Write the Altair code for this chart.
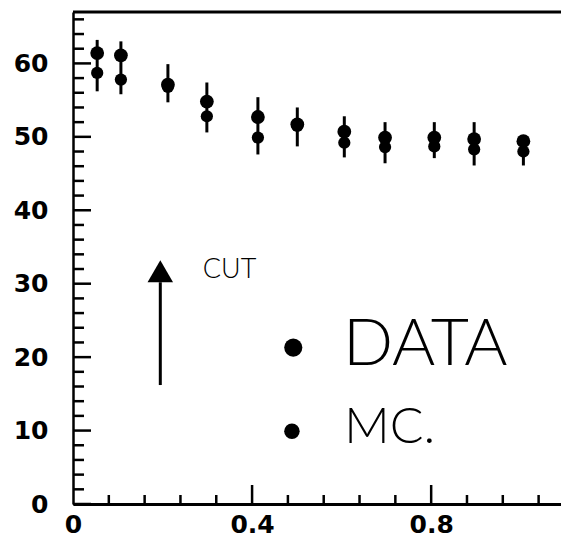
import altair as alt
import pandas as pd
import numpy as np

# ---- data ----
x_vals = [0.054, 0.107, 0.212, 0.299, 0.413, 0.501, 0.606, 0.697, 0.807, 0.896, 1.006]
data_vals = [61.4, 61.1, 57.1, 54.8, 52.7, 51.7, 50.7, 49.9, 49.9, 49.7, 49.4]
mc_vals = [58.7, 57.8, 56.8, 52.8, 49.9, 51.5, 49.2, 48.6, 48.7, 48.3, 48.0]
err_low = [56.2, 55.8, 54.7, 50.6, 47.6, 48.7, 47.2, 46.4, 47.1, 46.1, 46.1]
err_high = [63.2, 63.0, 59.9, 57.4, 55.4, 54.0, 52.8, 52.0, 52.0, 52.0, 50.1]
x_tick_labels = [0, 0.4, 0.8]
y_tick_labels = [0, 10, 20, 30, 40, 50, 60]

# annotation text
cut_text = ["CUT"]
legend_names = ["DATA", "MC."]

W, H = 488, 492
xs = alt.Scale(domain=[0, 1.09], nice=False, zero=False)
ys = alt.Scale(domain=[0, 67], nice=False, zero=False)

xaxis = alt.Axis(values=x_tick_labels,
                 labelExpr="datum.value == 0 ? '0' : format(datum.value, '.1f')",
                 ticks=False, tickSize=0, grid=False, domainWidth=3, domainColor="black",
                 labelFont="DejaVu Sans", labelFontWeight="bold", labelFontSize=25,
                 labelColor="black", labelPadding=8, labelFlush=False, title=None)
yaxis = alt.Axis(values=y_tick_labels, format="d",
                 ticks=False, tickSize=0, grid=False, domainWidth=2.5, domainColor="black",
                 labelFont="DejaVu Sans", labelFontWeight="bold", labelFontSize=25,
                 labelColor="black", labelPadding=25, labelFlush=False, title=None)


def X(f):
    return alt.X(f, type="quantitative", scale=xs, axis=xaxis)


def Y(f):
    return alt.Y(f, type="quantitative", scale=ys, axis=yaxis)


n = len(x_vals)
pts = pd.DataFrame({"x": x_vals * 2, "y": data_vals + mc_vals,
                    "kind": ["DATA"] * n + ["MC"] * n})
err = pd.DataFrame({"x": x_vals, "lo": err_low, "hi": err_high})

# inward ticks
y_minor = pd.DataFrame({"v": [v for v in np.arange(0, 67, 2) if v % 10 != 0]})
y_major = pd.DataFrame({"v": [v for v in np.arange(0, 67, 10)]})
x_minor = pd.DataFrame({"v": [round(v, 2) for v in np.arange(0.08, 1.09, 0.08)
                              if abs(v / 0.4 - round(v / 0.4)) > 1e-6]})
x_major = pd.DataFrame({"v": [0.4, 0.8]})

ytick_min = alt.Chart(y_minor).mark_rule(color="black", strokeWidth=2.5).encode(
    y=Y("v"), x=alt.value(0), x2=alt.value(11))
ytick_maj = alt.Chart(y_major).mark_rule(color="black", strokeWidth=2.5).encode(
    y=Y("v"), x=alt.value(0), x2=alt.value(18))
xtick_min = alt.Chart(x_minor).mark_rule(color="black", strokeWidth=2.5).encode(
    x=X("v"), y=alt.value(H), y2=alt.value(H - 9))
xtick_maj = alt.Chart(x_major).mark_rule(color="black", strokeWidth=2.5).encode(
    x=X("v"), y=alt.value(H), y2=alt.value(H - 19))

top_frame = alt.Chart(pd.DataFrame({"a": [0]})).mark_rule(color="black", strokeWidth=3).encode(
    y=alt.value(0), x=alt.value(0), x2=alt.value(W))

bars = alt.Chart(err).mark_rule(color="black", strokeWidth=3).encode(
    x=X("x"), y=Y("lo"), y2=alt.Y2("hi"))

points = alt.Chart(pts).mark_point(filled=True, opacity=1, color="black").encode(
    x=X("x"), y=Y("y"),
    size=alt.Size("kind:N", scale=alt.Scale(domain=["DATA", "MC"], range=[190, 150]), legend=None))

# arrow "CUT"
arrow_shaft = alt.Chart(pd.DataFrame({"x": [0.195], "y": [16.2], "y2": [30.2]})).mark_rule(
    color="black", strokeWidth=3).encode(x=X("x"), y=Y("y"), y2=alt.Y2("y2"))
arrow_head = alt.Chart(pd.DataFrame({"x": [0.195], "y": [31.7]})).mark_point(
    shape="triangle-up", filled=True, opacity=1, color="black", size=650).encode(
    x=X("x"), y=Y("y"))
cut_label = alt.Chart(pd.DataFrame({"x": [0.29], "y": [31.8], "t": cut_text})).mark_text(
    align="left", baseline="middle", fontSize=27, font="Lato", fontWeight=300,
    color="black").encode(x=X("x"), y=Y("y"), text="t:N")

# hand-drawn legend
leg_dots = alt.Chart(pd.DataFrame({"x": [0.492, 0.489], "y": [21.3, 9.9],
                                   "kind": ["DATA", "MC"]})).mark_point(
    filled=True, opacity=1, color="black").encode(
    x=X("x"), y=Y("y"),
    size=alt.Size("kind:N", scale=alt.Scale(domain=["DATA", "MC"], range=[330, 240]), legend=None))
leg_data = alt.Chart(pd.DataFrame({"x": [0.603], "y": [21.6], "t": [legend_names[0]]})).mark_text(
    align="left", baseline="middle", fontSize=66, font="Lato", fontWeight=300,
    color="black").encode(x=X("x"), y=Y("y"), text="t:N")
leg_mc = alt.Chart(pd.DataFrame({"x": [0.606], "y": [10.4], "t": [legend_names[1]]})).mark_text(
    align="left", baseline="middle", fontSize=50, font="Lato", fontWeight=300,
    color="black").encode(x=X("x"), y=Y("y"), text="t:N")

chart = alt.layer(
    bars, points, ytick_min, ytick_maj, xtick_min, xtick_maj, top_frame,
    arrow_shaft, arrow_head, cut_label, leg_dots, leg_data, leg_mc
).resolve_scale(size="independent").properties(
    width=W, height=H,
    autosize=alt.AutoSizeParams(type="none"),
    padding={"left": 73, "top": 12, "right": 0, "bottom": 45},
    background="white",
).configure_view(stroke=None)

chart.save("out.html", embed_options={"renderer": "svg", "actions": False})
